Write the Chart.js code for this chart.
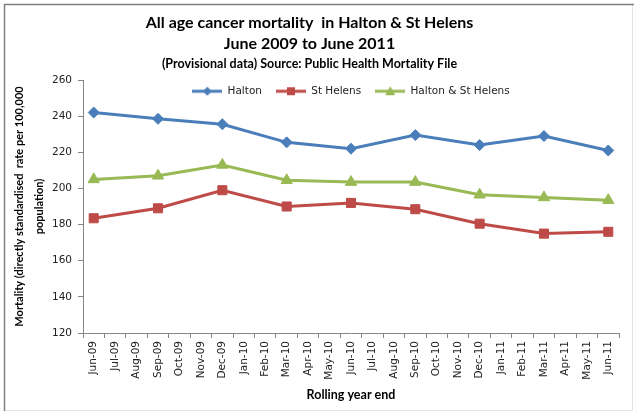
<!DOCTYPE html>
<html>
<head>
<meta charset="utf-8">
<title>All age cancer mortality in Halton &amp; St Helens</title>
<script src="https://cdn.jsdelivr.net/npm/chart.js@4.4.0/dist/chart.umd.min.js"></script>
<style>
  body { margin: 0; background: #fff; }
</style>
</head>
<body>
<canvas id="mortalityChart" width="634" height="412"></canvas>
<script>
// Rolling year end, monthly axis; rates are only published quarterly
const months = ['Jun-09', 'Jul-09', 'Aug-09', 'Sep-09', 'Oct-09', 'Nov-09', 'Dec-09', 'Jan-10', 'Feb-10',
  'Mar-10', 'Apr-10', 'May-10', 'Jun-10', 'Jul-10', 'Aug-10', 'Sep-10', 'Oct-10', 'Nov-10', 'Dec-10',
  'Jan-11', 'Feb-11', 'Mar-11', 'Apr-11', 'May-11', 'Jun-11'];

const halton = [242, null, null, 238.5, null, null, 235.5, null, null, 225.5, null, null, 222,
  null, null, 229.5, null, null, 224, null, null, 229, null, null, 221];
const stHelens = [183.5, null, null, 189, null, null, 199, null, null, 190, null, null, 192,
  null, null, 188.5, null, null, 180.5, null, null, 175, null, null, 176];
const combined = [205, null, null, 207, null, null, 213, null, null, 204.5, null, null, 203.5,
  null, null, 203.5, null, null, 196.5, null, null, 195, null, null, 193.5];

const yTicks = [120, 140, 160, 180, 200, 220, 240, 260];

const titleLines = ['All age cancer mortality  in Halton & St Helens', 'June 2009 to June 2011'];
const subtitleText = '(Provisional data) Source: Public Health Mortality File';
const yTitle = ['Mortality (directly standardised  rate per 100,000', 'population)'];
const xTitle = 'Rolling year end';

const BLUE = '#4A7EBB';
const RED = '#BE4B48';
const GREEN = '#98B954';
const AXIS = '#868686';
const TICK_FONT = { family: 'DejaVu Sans', size: 10.5 };
const BOLD = 'Lato';

// little line-with-marker swatches for the legend
function legendIcon(color, style) {
  const c = document.createElement('canvas');
  c.width = 30; c.height = 12;
  const g = c.getContext('2d');
  g.strokeStyle = color;
  g.lineWidth = 3;
  g.beginPath(); g.moveTo(0, 6); g.lineTo(30, 6); g.stroke();
  g.fillStyle = color;
  g.beginPath();
  if (style === 'rectRot') {
    g.moveTo(15, 1.5); g.lineTo(19.5, 6); g.lineTo(15, 10.5); g.lineTo(10.5, 6);
  } else if (style === 'rect') {
    g.rect(11, 2, 8, 8);
  } else {
    g.moveTo(15, 1); g.lineTo(20, 10); g.lineTo(10, 10);
  }
  g.closePath();
  g.fill();
  return c;
}
const legendIcons = [legendIcon(BLUE, 'rectRot'), legendIcon(RED, 'rect'), legendIcon(GREEN, 'triangle')];

function series(label, data, color, pointStyle, radius) {
  return {
    label: label,
    data: data,
    borderColor: color,
    backgroundColor: color,
    borderWidth: 3,
    tension: 0,
    spanGaps: true,
    pointStyle: pointStyle,
    pointRadius: radius,
    pointHoverRadius: radius,
    pointBorderWidth: 1,
    pointBackgroundColor: color,
    pointBorderColor: color
  };
}

// legend takes no room of its own: it sits inside the top of the plot
const legendInPlot = {
  id: 'legendInPlot',
  beforeInit(chart) {
    const legend = chart.legend;
    const fit = legend.fit;
    legend.fit = function () {
      fit.call(this);
      this.fullHeight = this.height;
      this.height = 0;
    };
  },
  afterLayout(chart) {
    const legend = chart.legend;
    legend.top -= 8;
    legend.bottom = legend.top + legend.fullHeight;
    legend.height = legend.fullHeight;
  }
};

// frame round the whole chart
const chartFrame = {
  id: 'chartFrame',
  afterDraw(chart) {
    const ctx = chart.ctx;
    ctx.save();
    ctx.lineWidth = 1;
    ctx.strokeStyle = '#e4e4e4';
    ctx.beginPath();
    ctx.moveTo(632.5, 4.5); ctx.lineTo(632.5, 410.5); ctx.lineTo(4.5, 410.5);
    ctx.stroke();
    ctx.strokeStyle = '#7f7f7f';
    ctx.lineWidth = 1.5;
    ctx.beginPath();
    ctx.moveTo(4.5, 411); ctx.lineTo(4.5, 4.5); ctx.lineTo(634, 4.5);
    ctx.stroke();
    ctx.restore();
  }
};

const ctx = document.getElementById('mortalityChart').getContext('2d');
new Chart(ctx, {
  type: 'line',
  data: {
    labels: months,
    datasets: [
      series('Halton', halton, BLUE, 'rectRot', 5.5),
      series('St Helens', stHelens, RED, 'rect', 6.4),
      series('Halton & St Helens', combined, GREEN, 'triangle', 6.5)
    ]
  },
  options: {
    responsive: false,
    animation: false,
    events: [],
    layout: { padding: { top: 0, right: 15, left: 0, bottom: 0 } },
    plugins: {
      title: {
        display: true,
        text: titleLines,
        color: '#000',
        font: { family: BOLD, size: 16, weight: 'bold', lineHeight: 1.3125 },
        padding: { top: 12.5, bottom: 0 }
      },
      subtitle: {
        display: true,
        text: subtitleText,
        color: '#000',
        font: { family: BOLD, size: 12.5, weight: 'bold', lineHeight: 1.28 },
        padding: { top: 1.5, bottom: 8 }
      },
      legend: {
        position: 'top',
        fullSize: false,
        align: 'center',
        labels: {
          usePointStyle: true,
          pointStyleWidth: 30,
          padding: 14,
          color: '#222',
          font: TICK_FONT,
          generateLabels: (chart) => Chart.defaults.plugins.legend.labels.generateLabels(chart)
            .map((item, i) => Object.assign(item, { pointStyle: legendIcons[i], lineWidth: 0 }))
        }
      },
      tooltip: { enabled: false }
    },
    scales: {
      x: {
        type: 'category',
        offset: true,
        afterFit: (scale) => { scale.height = 79; },
        grid: { drawOnChartArea: false, offset: true, tickLength: 5, color: AXIS },
        border: { display: true, color: AXIS, width: 1 },
        ticks: { autoSkip: false, minRotation: 90, maxRotation: 90, padding: 3, color: '#222', font: TICK_FONT },
        title: {
          display: true,
          text: xTitle,
          color: '#000',
          font: { family: BOLD, size: 12.5, weight: 'bold', lineHeight: 1.2 },
          padding: { top: 0, bottom: 10 }
        }
      },
      y: {
        min: yTicks[0],
        max: yTicks[yTicks.length - 1],
        afterFit: (scale) => { scale.width = 83; },
        afterBuildTicks: (scale) => { scale.ticks = yTicks.map(v => ({ value: v })); },
        grid: { drawOnChartArea: false, tickLength: 5, color: AXIS },
        border: { display: true, color: AXIS, width: 1 },
        ticks: { padding: 6, color: '#222', font: TICK_FONT },
        title: {
          display: true,
          text: yTitle,
          color: '#000',
          font: { family: BOLD, size: 11, weight: 'bold', lineHeight: 1.8 },
          padding: { top: 10, bottom: 0 }
        }
      }
    }
  },
  plugins: [legendInPlot, chartFrame]
});
</script>
</body>
</html>
